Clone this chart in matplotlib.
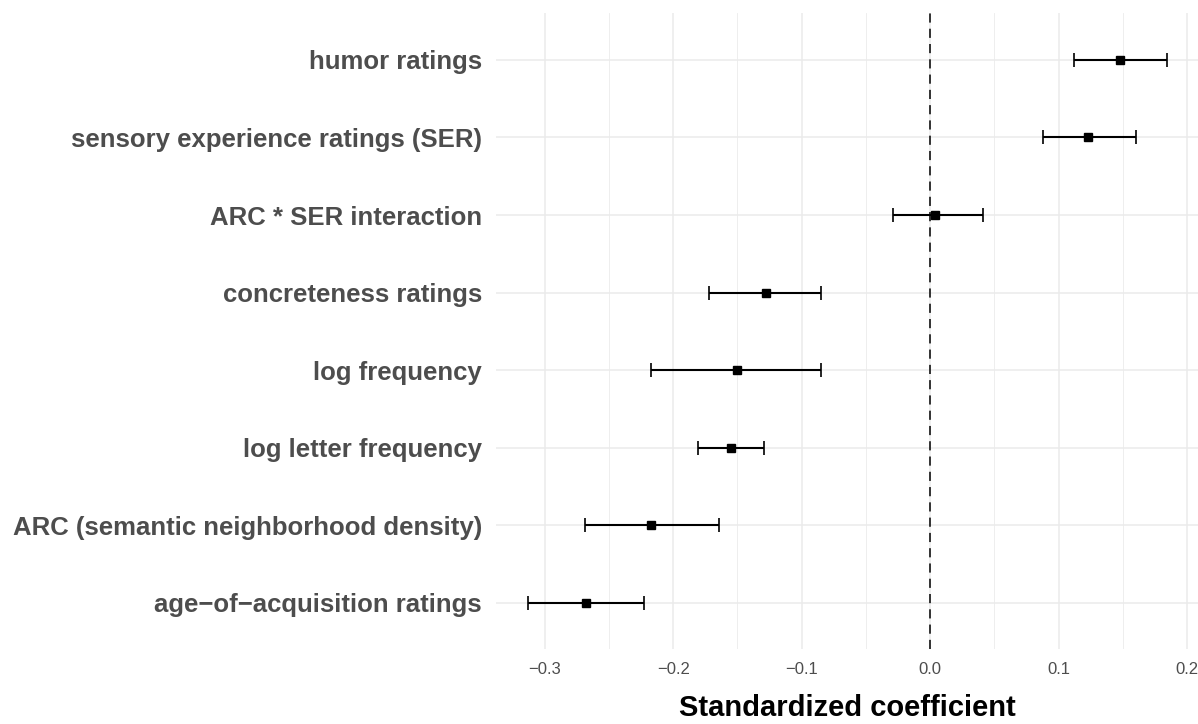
import matplotlib.pyplot as plt
import numpy as np

# predictors, top to bottom
labels = ['humor ratings',
          'sensory experience ratings (SER)',
          'ARC * SER interaction',
          'concreteness ratings',
          'log frequency',
          'log letter frequency',
          'ARC (semantic neighborhood density)',
          'age\u2212of\u2212acquisition ratings']
estimate = [0.148, 0.123, 0.004, -0.128, -0.150, -0.155, -0.217, -0.268]
ci_low = [0.112, 0.088, -0.029, -0.172, -0.217, -0.181, -0.269, -0.313]
ci_high = [0.184, 0.160, 0.041, -0.085, -0.085, -0.129, -0.164, -0.223]

est = np.array(estimate)
lo = est - np.array(ci_low)
hi = np.array(ci_high) - est
ypos = np.arange(len(labels))[::-1]

fig = plt.figure(figsize=(11.98, 7.24), dpi=100)
ax = fig.add_axes([0.414, 0.103, 0.586, 0.8785])

ax.axvline(0, color='black', lw=1.1, ls=(0, (6, 4)), zorder=2)
ax.errorbar(est, ypos, xerr=[lo, hi], fmt='s', color='black', ms=6,
            elinewidth=1.5, capsize=5, capthick=1.2, zorder=3)

ax.set_xlim(-0.338, 0.2085)
ax.set_ylim(-0.6, len(labels) - 0.4)
ax.set_xticks([-0.3, -0.2, -0.1, 0.0, 0.1, 0.2])
ax.set_xticklabels(['\u22120.3', '\u22120.2', '\u22120.1', '0.0', '0.1', '0.2'])
ax.set_xticks([-0.25, -0.15, -0.05, 0.05, 0.15], minor=True)
ax.set_yticks(ypos)
ax.set_yticklabels(labels)

ax.grid(True, which='major', color='#EBEBEB', lw=1.1, zorder=0)
ax.grid(True, which='minor', axis='x', color='#EBEBEB', lw=0.6, zorder=0)
ax.set_axisbelow(True)
for s in ax.spines.values():
    s.set_visible(False)
ax.tick_params(which='both', length=0)
ax.tick_params(axis='x', pad=9, labelsize=12, labelcolor='#4D4D4D')
ax.tick_params(axis='y', pad=10)
for t in ax.get_yticklabels():
    t.set_fontfamily('Liberation Sans')
    t.set_fontweight('bold')
    t.set_fontsize(18.5)
    t.set_color('#4D4D4D')
for t in ax.get_xticklabels():
    t.set_fontfamily('Liberation Sans')

ax.set_xlabel('Standardized coefficient', fontfamily='Liberation Sans',
              fontweight='bold', fontsize=21, color='black', labelpad=12)

fig.savefig('out.png', dpi=100)
